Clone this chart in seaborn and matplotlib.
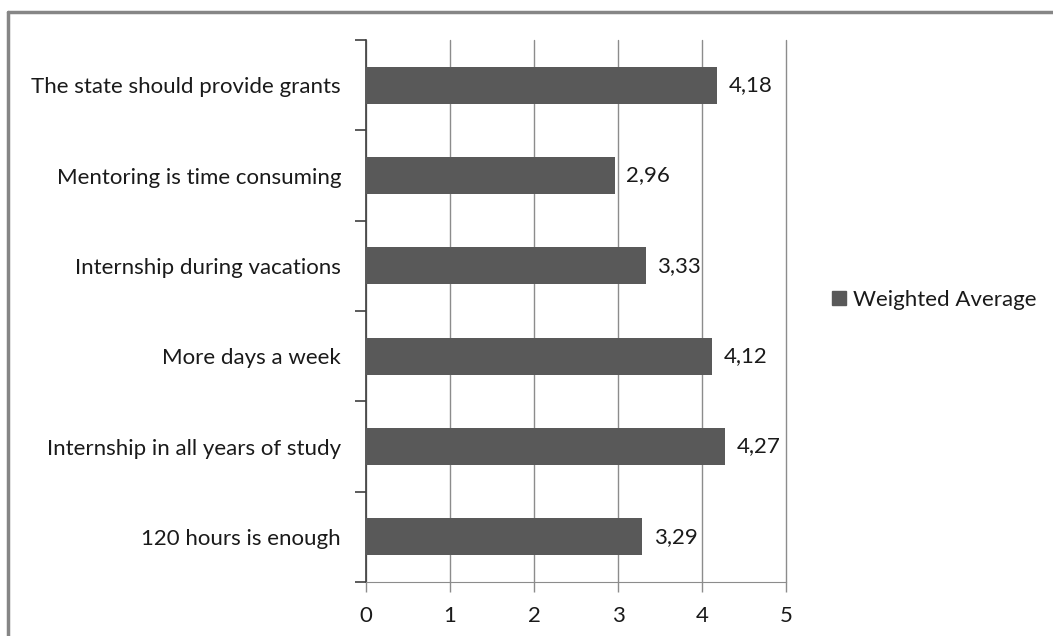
import matplotlib
matplotlib.use("Agg")
import matplotlib.pyplot as plt
import seaborn as sns
import pandas as pd
from matplotlib.lines import Line2D

categories = [
    "The state should provide grants",
    "Mentoring is time consuming",
    "Internship during vacations",
    "More days a week",
    "Internship in all years of study",
    "120 hours is enough",
]
values = [4.18, 2.96, 3.33, 4.12, 4.27, 3.29]
series_name = "Weighted Average"
x_ticks = [0, 1, 2, 3, 4, 5]

df = pd.DataFrame({"category": categories, "value": values})

sns.set_style("white")
plt.rcParams["font.family"] = ["Lato", "DejaVu Sans"]

bar_color = "#595959"
grid_color = "#8c8c8c"
text_color = "#1a1a1a"
fs = 16

fig = plt.figure(figsize=(10.53, 6.36), dpi=100)
ax = fig.add_axes([0.3476, 0.0849, 0.7464 - 0.3476, 0.9371 - 0.0849])

sns.barplot(data=df, x="value", y="category", orient="h", color=bar_color,
            width=0.41, saturation=1, linewidth=0, ax=ax, zorder=3)

ax.set_xlim(0, 5)
ax.set_ylim(len(categories) - 0.5, -0.5)
ax.set_xticks(x_ticks)
ax.set_xticklabels([str(t) for t in x_ticks], fontsize=fs, color=text_color)
ax.xaxis.grid(True, color=grid_color, linewidth=1.0, zorder=0)
ax.yaxis.grid(False)
for gl in ax.get_xgridlines():
    gl.set_clip_on(False)

# category labels sit between boundary tick marks
ax.set_yticks(range(len(categories)))
ax.set_yticklabels(categories, fontsize=fs, color=text_color)
ax.tick_params(axis="y", which="major", left=False, length=0, pad=18)
ax.set_yticks([i - 0.5 for i in range(len(categories) + 1)], minor=True)
ax.tick_params(axis="y", which="minor", left=True, length=8, width=1.2,
               color="#404040", direction="out")
ax.tick_params(axis="x", which="major", bottom=True, length=7, width=1.0,
               color=grid_color, direction="out", pad=10)

ax.set_xlabel("")
ax.set_ylabel("")
for side in ["top", "right"]:
    ax.spines[side].set_visible(False)
ax.spines["left"].set_color("#404040")
ax.spines["left"].set_linewidth(1.2)
ax.spines["bottom"].set_color(grid_color)

for i, v in enumerate(values):
    ax.text(v + 0.14, i, f"{v:.2f}".replace(".", ","), va="center", ha="left",
            fontsize=fs, color=text_color, zorder=4)

handle = Line2D([], [], marker="s", linestyle="none", markersize=10,
                markerfacecolor=bar_color, markeredgecolor=bar_color)
fig.legend([handle], [series_name], loc="center left",
           bbox_to_anchor=(0.767, 0.528), frameon=False, fontsize=fs,
           handletextpad=0.15, handlelength=1.0, labelcolor=text_color)

# chart frame
fig.add_artist(Line2D([8 / 1053, 8 / 1053], [0, 1 - 12 / 636], color="#868686", linewidth=2.5,
                      transform=fig.transFigure))
fig.add_artist(Line2D([8 / 1053, 1], [1 - 12 / 636, 1 - 12 / 636], color="#868686", linewidth=2.5,
                      transform=fig.transFigure))

fig.savefig("out.png", dpi=100)
